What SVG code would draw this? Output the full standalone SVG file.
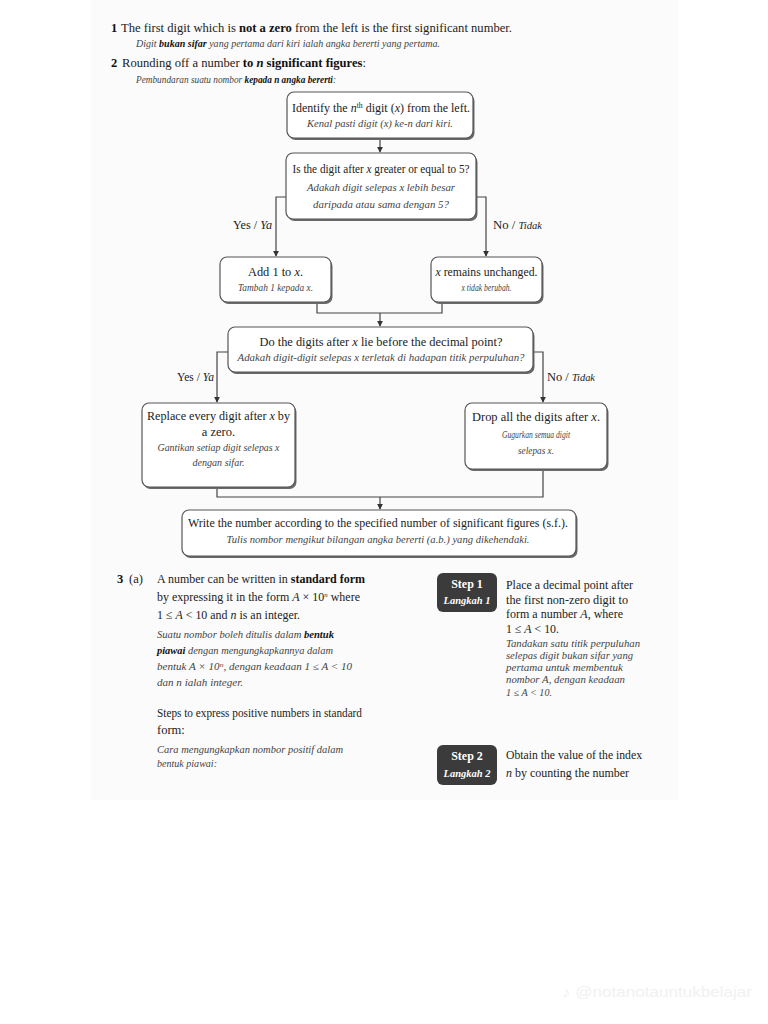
<svg xmlns="http://www.w3.org/2000/svg" width="768" height="1024" viewBox="0 0 768 1024">
<defs>
<style>
text{font-family:"Liberation Serif","Times New Roman",serif;fill:#222}
.r{font-size:12.5px}
.i{font-size:9.5px;font-style:italic;fill:#444}
.b{font-weight:bold;fill:#111}
.it{font-style:italic}
.c{text-anchor:middle}
.box{fill:#fff;stroke:#555;stroke-width:1.2}
.sh{fill:#6a6a6a}
.step{fill:#3b3b3b}
.st{fill:#fff;font-weight:bold;font-size:12px;text-anchor:middle}
.sti{fill:#fff;font-style:italic;font-weight:bold;font-size:10.5px;text-anchor:middle}
.ln{fill:none;stroke:#444;stroke-width:1.2}
.lab{font-size:12px}
</style>
<marker id="ah" viewBox="0 0 8 8" refX="7" refY="4" markerWidth="6" markerHeight="6" orient="auto" markerUnits="userSpaceOnUse">
<path d="M0,0 L8,4 L0,8 Z" fill="#333"/>
</marker>
</defs>
<rect x="0" y="0" width="768" height="1024" fill="#fff"/>
<rect x="91" y="0" width="587" height="800" fill="#fbfbfb"/>

<g id="intro">
<text x="111" y="32" class="r b">1</text>
<text x="121" y="32" class="r" textLength="391" lengthAdjust="spacingAndGlyphs">The first digit which is <tspan class="b">not a zero</tspan> from the left is the first significant number.</text>
<text x="136" y="47" class="i" textLength="304" lengthAdjust="spacingAndGlyphs">Digit <tspan class="b">bukan sifar</tspan> yang pertama dari kiri ialah angka bererti yang pertama.</text>
<text x="111" y="67" class="r b">2</text>
<text x="122" y="67" class="r" textLength="244" lengthAdjust="spacingAndGlyphs">Rounding off a number <tspan class="b">to <tspan class="it">n</tspan> significant figures</tspan>:</text>
<text x="136" y="83" class="i" textLength="200" lengthAdjust="spacingAndGlyphs">Pembundaran suatu nombor <tspan class="b">kepada n angka bererti</tspan>:</text>
</g>

<g id="connectors">
<path class="ln" d="M380 139 V152" marker-end="url(#ah)"/>
<path class="ln" d="M286 197 H276 V256" marker-end="url(#ah)"/>
<path class="ln" d="M476 197 H486 V256" marker-end="url(#ah)"/>
<path class="ln" d="M317 303 V313 H442 V303"/>
<path class="ln" d="M380 313 V326" marker-end="url(#ah)"/>
<path class="ln" d="M228 352 H217 V402" marker-end="url(#ah)"/>
<path class="ln" d="M533 352 H543 V402" marker-end="url(#ah)"/>
<path class="ln" d="M217 488 V497 H543 V470"/>
<path class="ln" d="M380 497 V509" marker-end="url(#ah)"/>
</g>

<g id="n1">
<rect class="sh" x="288.5" y="94" width="186" height="46" rx="7"/>
<rect class="box" x="287" y="92" width="186" height="46" rx="7"/>
<text x="292" y="112" class="r" textLength="178" lengthAdjust="spacingAndGlyphs">Identify the <tspan class="it">n</tspan><tspan font-size="8" baseline-shift="super">th</tspan> digit (<tspan class="it">x</tspan>) from the left.</text>
<text x="380" y="127" class="i c" textLength="146" lengthAdjust="spacingAndGlyphs">Kenal pasti digit (x) ke-n dari kiri.</text>
</g>

<g id="n2">
<rect class="sh" x="287.5" y="155" width="190" height="66" rx="7"/>
<rect class="box" x="286" y="153" width="190" height="66" rx="7"/>
<text x="381" y="173" class="r c" textLength="177" lengthAdjust="spacingAndGlyphs">Is the digit after <tspan class="it">x</tspan> greater or equal to 5?</text>
<text x="381" y="191" class="i c" textLength="148" lengthAdjust="spacingAndGlyphs">Adakah digit selepas x lebih besar</text>
<text x="381" y="208" class="i c" textLength="136" lengthAdjust="spacingAndGlyphs">daripada atau sama dengan 5?</text>
</g>

<g id="lab1">
<text x="233" y="229" class="lab" textLength="39" lengthAdjust="spacingAndGlyphs">Yes / <tspan class="it">Ya</tspan></text>
<text x="493" y="229" class="lab" textLength="49" lengthAdjust="spacingAndGlyphs">No / <tspan class="it" font-size="10">Tidak</tspan></text>
</g>

<g id="n3">
<rect class="sh" x="221.5" y="259" width="111" height="45" rx="7"/>
<rect class="box" x="220" y="257" width="111" height="45" rx="7"/>
<text x="275.5" y="276" class="r c" textLength="55" lengthAdjust="spacingAndGlyphs">Add 1 to <tspan class="it">x</tspan>.</text>
<text x="275.5" y="291" class="i c" textLength="75" lengthAdjust="spacingAndGlyphs">Tambah 1 kepada x.</text>
</g>

<g id="n4">
<rect class="sh" x="432.5" y="259" width="111" height="45" rx="7"/>
<rect class="box" x="431" y="257" width="111" height="45" rx="7"/>
<text x="486.5" y="276" class="r c" textLength="102" lengthAdjust="spacingAndGlyphs"><tspan class="it">x</tspan> remains unchanged.</text>
<text x="486.5" y="291" class="i c" textLength="50" lengthAdjust="spacingAndGlyphs">x tidak berubah.</text>
</g>

<g id="n5">
<rect class="sh" x="229.5" y="329" width="305" height="45" rx="7"/>
<rect class="box" x="228" y="327" width="305" height="45" rx="7"/>
<text x="381" y="346" class="r c" textLength="243" lengthAdjust="spacingAndGlyphs">Do the digits after <tspan class="it">x</tspan> lie before the decimal point?</text>
<text x="381" y="361" class="i c" textLength="287" lengthAdjust="spacingAndGlyphs">Adakah digit-digit selepas x terletak di hadapan titik perpuluhan?</text>
</g>

<g id="lab2">
<text x="177" y="381" class="lab" textLength="37" lengthAdjust="spacingAndGlyphs">Yes / <tspan class="it">Ya</tspan></text>
<text x="547" y="381" class="lab" textLength="48" lengthAdjust="spacingAndGlyphs">No / <tspan class="it" font-size="10">Tidak</tspan></text>
</g>

<g id="n6">
<rect class="sh" x="143.5" y="405" width="153" height="84" rx="7"/>
<rect class="box" x="142" y="403" width="153" height="84" rx="7"/>
<text x="218.5" y="420" class="r c" textLength="143" lengthAdjust="spacingAndGlyphs">Replace every digit after <tspan class="it">x</tspan> by</text>
<text x="218.5" y="436" class="r c">a zero.</text>
<text x="218.5" y="451" class="i c" textLength="122" lengthAdjust="spacingAndGlyphs">Gantikan setiap digit selepas x</text>
<text x="218.5" y="466" class="i c" textLength="52" lengthAdjust="spacingAndGlyphs">dengan sifar.</text>
</g>

<g id="n7">
<rect class="sh" x="466.5" y="405" width="142" height="66" rx="7"/>
<rect class="box" x="465" y="403" width="142" height="66" rx="7"/>
<text x="536" y="421" class="r c" textLength="128" lengthAdjust="spacingAndGlyphs">Drop all the digits after <tspan class="it">x</tspan>.</text>
<text x="536" y="438" class="i c" textLength="68" lengthAdjust="spacingAndGlyphs">Gugurkan semua digit</text>
<text x="536" y="454" class="i c" textLength="36" lengthAdjust="spacingAndGlyphs">selepas x.</text>
</g>

<g id="n8">
<rect class="sh" x="183.5" y="512" width="394" height="46" rx="7"/>
<rect class="box" x="182" y="510" width="394" height="46" rx="7"/>
<text x="378" y="527" class="r c" textLength="380" lengthAdjust="spacingAndGlyphs">Write the number according to the specified number of significant figures (s.f.).</text>
<text x="378" y="543" class="i c" textLength="303" lengthAdjust="spacingAndGlyphs">Tulis nombor mengikut bilangan angka bererti (a.b.) yang dikehendaki.</text>
</g>

<g id="sec3">
<text x="117" y="583" class="r b">3</text>
<text x="129" y="583" class="r">(a)</text>
<text x="157" y="583" class="r" textLength="208" lengthAdjust="spacingAndGlyphs">A number can be written in <tspan class="b">standard form</tspan></text>
<text x="157" y="601" class="r" textLength="203" lengthAdjust="spacingAndGlyphs">by expressing it in the form <tspan class="it">A</tspan> × 10<tspan class="it" font-size="7" baseline-shift="super">n</tspan> where</text>
<text x="157" y="619" class="r" textLength="143" lengthAdjust="spacingAndGlyphs">1 ≤ <tspan class="it">A</tspan> &lt; 10 and <tspan class="it">n</tspan> is an integer.</text>
<text x="157" y="638" class="i" textLength="177" lengthAdjust="spacingAndGlyphs">Suatu nombor boleh ditulis dalam <tspan class="b">bentuk</tspan></text>
<text x="157" y="654" class="i" textLength="176" lengthAdjust="spacingAndGlyphs"><tspan class="b">piawai</tspan> dengan mengungkapkannya dalam</text>
<text x="157" y="670" class="i" textLength="195" lengthAdjust="spacingAndGlyphs">bentuk A × 10<tspan font-size="6.5" baseline-shift="super">n</tspan>, dengan keadaan 1 ≤ A &lt; 10</text>
<text x="157" y="686" class="i" textLength="86" lengthAdjust="spacingAndGlyphs">dan n ialah integer.</text>
<text x="157" y="717" class="r" textLength="205" lengthAdjust="spacingAndGlyphs">Steps to express positive numbers in standard</text>
<text x="157" y="734" class="r">form:</text>
<text x="157" y="753" class="i" textLength="186" lengthAdjust="spacingAndGlyphs">Cara mengungkapkan nombor positif dalam</text>
<text x="157" y="767" class="i" textLength="60" lengthAdjust="spacingAndGlyphs">bentuk piawai:</text>
</g>

<g id="step1">
<rect class="step" x="437" y="573" width="60" height="39" rx="6"/>
<text x="467" y="588" class="st">Step 1</text>
<text x="467" y="604" class="sti">Langkah 1</text>
<text x="506" y="589" class="r" textLength="127" lengthAdjust="spacingAndGlyphs">Place a decimal point after</text>
<text x="506" y="604" class="r" textLength="122" lengthAdjust="spacingAndGlyphs">the first non-zero digit to</text>
<text x="506" y="618" class="r" textLength="117" lengthAdjust="spacingAndGlyphs">form a number <tspan class="it">A</tspan>, where</text>
<text x="506" y="633" class="r" textLength="53" lengthAdjust="spacingAndGlyphs">1 ≤ <tspan class="it">A</tspan> &lt; 10.</text>
<text x="506" y="647" class="i" textLength="134" lengthAdjust="spacingAndGlyphs">Tandakan satu titik perpuluhan</text>
<text x="506" y="659" class="i" textLength="127" lengthAdjust="spacingAndGlyphs">selepas digit bukan sifar yang</text>
<text x="506" y="671" class="i" textLength="117" lengthAdjust="spacingAndGlyphs">pertama untuk membentuk</text>
<text x="506" y="683" class="i" textLength="119" lengthAdjust="spacingAndGlyphs">nombor A, dengan keadaan</text>
<text x="506" y="696" class="i" textLength="46" lengthAdjust="spacingAndGlyphs">1 ≤ A &lt; 10.</text>
</g>

<g id="step2">
<rect class="step" x="437" y="745" width="60" height="40" rx="6"/>
<text x="467" y="760" class="st">Step 2</text>
<text x="467" y="777" class="sti">Langkah 2</text>
<text x="506" y="759" class="r" textLength="136" lengthAdjust="spacingAndGlyphs">Obtain the value of the index</text>
<text x="506" y="777" class="r" textLength="123" lengthAdjust="spacingAndGlyphs"><tspan class="it">n</tspan> by counting the number</text>
</g>

<text x="562" y="997" style="font-family:'Liberation Sans',Arial,sans-serif;font-size:14px;fill:#f1f1f1" textLength="190" lengthAdjust="spacingAndGlyphs">♪ @notanotauntukbelajar</text>
</svg>
